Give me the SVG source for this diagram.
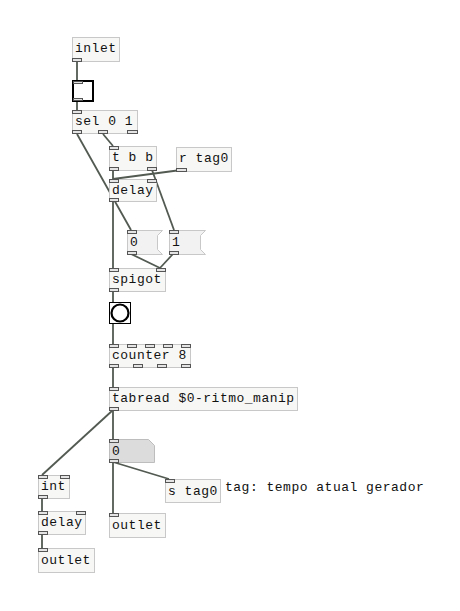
<svg xmlns="http://www.w3.org/2000/svg" width="460" height="611" viewBox="0 0 460 611">
<style>
.box{fill:#f7f7f5;stroke:#c8c8c8;stroke-width:1}
.msg{fill:#f2f2f2;stroke:#c8c8c8;stroke-width:1}
.num{fill:#dcdcdc;stroke:#bdbdbd;stroke-width:1}
.tab{fill:#e4e4e4;stroke:#555;stroke-width:1}
.t{font-family:"Liberation Mono",monospace;font-size:13px;letter-spacing:0.5px;fill:#111}
.c{fill:none;stroke:#525a52;stroke-width:1.8}
</style>
<rect width="460" height="611" fill="#fff"/>
<g id="connectors">
<line class="c" x1="77" y1="61" x2="77" y2="80"/>
<line class="c" x1="77" y1="101" x2="77" y2="110"/>
<line class="c" x1="77" y1="134" x2="131" y2="230"/>
<line class="c" x1="103" y1="134" x2="113" y2="146"/>
<line class="c" x1="113" y1="170" x2="113" y2="179"/>
<line class="c" x1="152" y1="170" x2="174" y2="230"/>
<line class="c" x1="181" y1="170" x2="113" y2="179"/>
<line class="c" x1="113" y1="202" x2="113" y2="268"/>
<line class="c" x1="131" y1="254" x2="160" y2="268"/>
<line class="c" x1="173" y1="254" x2="160" y2="268"/>
<line class="c" x1="113" y1="291" x2="113" y2="302"/>
<line class="c" x1="113" y1="324" x2="113" y2="344"/>
<line class="c" x1="113" y1="368" x2="113" y2="387"/>
<line class="c" x1="113" y1="410" x2="113" y2="439"/>
<line class="c" x1="113" y1="410" x2="42" y2="475"/>
<line class="c" x1="113" y1="462" x2="169" y2="479"/>
<line class="c" x1="113" y1="462" x2="113" y2="513"/>
<line class="c" x1="42" y1="498" x2="42" y2="511"/>
<line class="c" x1="42" y1="534" x2="42" y2="548"/>
</g>
<g id="inlet"><rect class="box" x="72.5" y="37.5" width="47" height="24"/><rect class="tab" x="72.5" y="58.5" width="9" height="3"/><text class="t" x="75" y="52">inlet</text></g>
<g id="toggle"><rect x="73" y="81" width="20" height="20" fill="#fff" stroke="#000" stroke-width="2"/><rect class="tab" x="73.5" y="81.5" width="9" height="2"/><rect class="tab" x="73.5" y="98.5" width="9" height="2"/></g>
<g id="sel"><rect class="box" x="72.5" y="110.5" width="65" height="23"/><rect class="tab" x="72.5" y="110.5" width="9" height="3"/><rect class="tab" x="72.5" y="130.5" width="9" height="3"/><rect class="tab" x="98.5" y="130.5" width="9" height="3"/><rect class="tab" x="127.5" y="130.5" width="10" height="3"/><text class="t" x="75" y="125">sel 0 1</text></g>
<g id="tbb"><rect class="box" x="109.5" y="146.5" width="47" height="24"/><rect class="tab" x="109.5" y="146.5" width="9" height="3"/><rect class="tab" x="109.5" y="167.5" width="9" height="3"/><rect class="tab" x="147.5" y="167.5" width="9" height="3"/><text class="t" x="112" y="161">t b b</text></g>
<g id="rtag0"><rect class="box" x="176.5" y="147.5" width="55" height="24"/><rect class="tab" x="176.5" y="168.5" width="10" height="3"/><text class="t" x="179" y="162">r tag0</text></g>
<g id="delay1"><rect class="box" x="109.5" y="179.5" width="47" height="22"/><rect class="tab" x="109.5" y="179.5" width="9" height="3"/><rect class="tab" x="147.5" y="179.5" width="9" height="3"/><rect class="tab" x="109.5" y="198.5" width="9" height="3"/><text class="t" x="112" y="194">delay</text></g>
<g id="msg0"><path class="msg" d="M127.5 230.5H162.5L157.5 235.5V249.5L162.5 254.5H127.5Z"/><rect class="tab" x="127.5" y="230.5" width="9" height="3"/><rect class="tab" x="127.5" y="251.5" width="9" height="3"/><text class="t" x="130" y="246">0</text></g>
<g id="msg1"><path class="msg" d="M169.5 230.5H205.5L200.5 235.5V249.5L205.5 254.5H169.5Z"/><rect class="tab" x="169.5" y="230.5" width="9" height="3"/><rect class="tab" x="169.5" y="251.5" width="9" height="3"/><text class="t" x="172" y="246">1</text></g>
<g id="spigot"><rect class="box" x="109.5" y="268.5" width="56" height="23"/><rect class="tab" x="109.5" y="268.5" width="9" height="3"/><rect class="tab" x="156.5" y="268.5" width="9" height="3"/><rect class="tab" x="109.5" y="288.5" width="9" height="3"/><text class="t" x="112" y="283">spigot</text></g>
<g id="bang"><rect x="109.5" y="302.5" width="21" height="21" fill="#fff" stroke="#000" stroke-width="1"/><circle cx="120" cy="313" r="8.5" fill="#fff" stroke="#000" stroke-width="2.2"/></g>
<g id="counter"><rect class="box" x="109.5" y="344.5" width="81" height="23"/><rect class="tab" x="109.5" y="344.5" width="9" height="3"/><rect class="tab" x="127.5" y="344.5" width="9" height="3"/><rect class="tab" x="145.5" y="344.5" width="9" height="3"/><rect class="tab" x="163.5" y="344.5" width="9" height="3"/><rect class="tab" x="181.5" y="344.5" width="9" height="3"/><rect class="tab" x="109.5" y="364.5" width="9" height="3"/><rect class="tab" x="133.5" y="364.5" width="9" height="3"/><rect class="tab" x="157.5" y="364.5" width="9" height="3"/><rect class="tab" x="181.5" y="364.5" width="9" height="3"/><text class="t" x="112" y="359">counter 8</text></g>
<g id="tabread"><rect class="box" x="109.5" y="387.5" width="188" height="23"/><rect class="tab" x="109.5" y="387.5" width="9" height="3"/><rect class="tab" x="109.5" y="407.5" width="9" height="3"/><text class="t" x="112" y="402">tabread $0-ritmo_manip</text></g>
<g id="number"><path class="num" d="M109.5 439.5H148.5L154.5 445.5V462.5H109.5Z"/><rect class="tab" x="109.5" y="439.5" width="9" height="3"/><rect class="tab" x="109.5" y="459.5" width="9" height="3"/><text class="t" x="112" y="455">0</text></g>
<g id="int"><rect class="box" x="38.5" y="475.5" width="31" height="23"/><rect class="tab" x="38.5" y="475.5" width="9" height="3"/><rect class="tab" x="60.5" y="475.5" width="9" height="3"/><rect class="tab" x="38.5" y="495.5" width="9" height="3"/><text class="t" x="41" y="490">int</text></g>
<g id="stag0"><rect class="box" x="165.5" y="479.5" width="55" height="23"/><rect class="tab" x="165.5" y="479.5" width="9" height="3"/><text class="t" x="168" y="495">s tag0</text></g>
<g id="comment"><text class="t" x="225" y="491">tag: tempo atual gerador</text></g>
<g id="delay2"><rect class="box" x="38.5" y="511.5" width="47" height="23"/><rect class="tab" x="38.5" y="511.5" width="9" height="3"/><rect class="tab" x="76.5" y="511.5" width="9" height="3"/><rect class="tab" x="38.5" y="531.5" width="9" height="3"/><text class="t" x="41" y="526">delay</text></g>
<g id="outlet1"><rect class="box" x="109.5" y="513.5" width="56" height="24"/><rect class="tab" x="109.5" y="513.5" width="9" height="3"/><text class="t" x="112" y="529">outlet</text></g>
<g id="outlet2"><rect class="box" x="38.5" y="548.5" width="56" height="24"/><rect class="tab" x="38.5" y="548.5" width="9" height="3"/><text class="t" x="41" y="564">outlet</text></g>
</svg>
